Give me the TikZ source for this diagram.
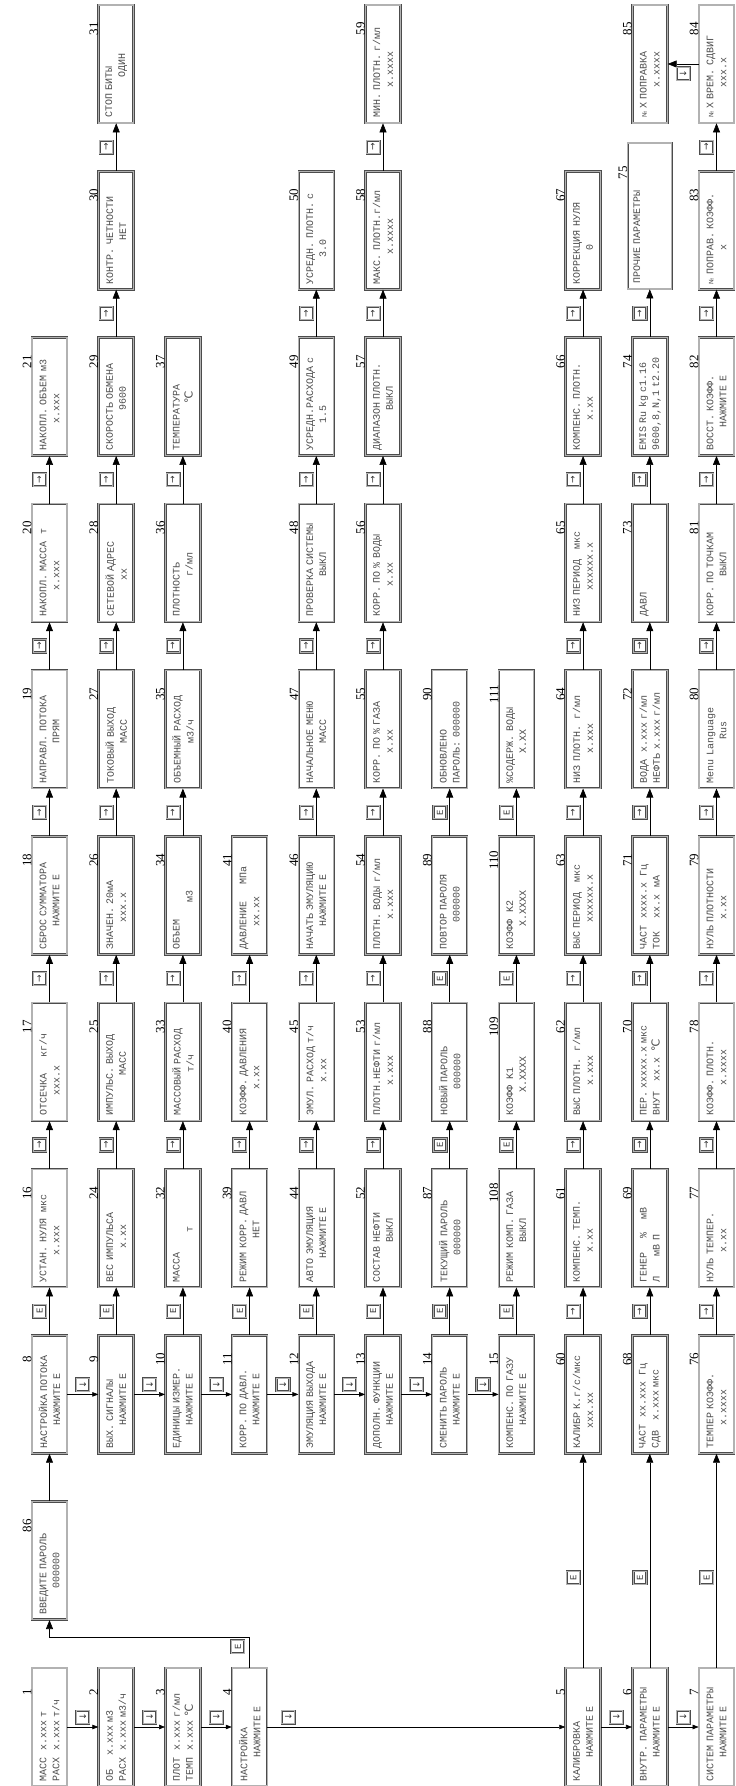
\documentclass[tikz,border=0pt]{standalone}
\usepackage{fontspec}
\setmainfont{Liberation Serif}
\newfontfamily\lcdfont{Liberation Mono}
\newfontfamily\symfont{DejaVu Sans}
\usetikzlibrary{arrows.meta}

\newcommand{\lcd}[2]{\mbox{#1}\\\mbox{#2}}
\newcommand{\dgc}{{\symfont\fontsize{11}{11}\selectfont ℃}}
\newcommand{\nr}{{\symfont\fontsize{6}{6}\selectfont №}}
\newcommand{\kr}{{\symfont →}}
\newcommand{\kd}{{\symfont ↓}}
\newcommand{\ke}{{\lcdfont E}}

\begin{document}
\begin{tikzpicture}[rotate=90, transform shape, x=166.3pt, y=-66.7pt,
lcdbox/.style={draw=black!70, double=black!30, double distance=1.1pt, line width=.7pt,
  text width=108pt, align=left, inner xsep=5pt, inner ysep=0pt, minimum height=35pt,
  font=\lcdfont\fontsize{10}{13}\selectfont, text=black!70},
lcd/.style={lcdbox, label={[num, anchor=south, label distance=3pt, xshift=38pt]above:#1}},
num/.style={inner sep=0pt, text=black, font=\rmfamily\fontsize{13}{13}\selectfont},
key/.style={draw=black!70, double=black!30, double distance=1pt, line width=.6pt,
  minimum size=13pt, inner sep=0pt, text=black!80, font=\fontsize{9}{9}\selectfont},
link/.style={-{Triangle[length=9pt,width=7pt]}, line width=.6pt},
linksm/.style={-{Triangle[length=6pt,width=4.5pt]}, line width=.6pt}]
\useasboundingbox (-59pt,49.5pt) rectangle (1727pt,-686.5pt);

% main screens
\node[lcd=1] (n1) at (0,0) {\lcd{МАСС~~x.xxx~т}{РАСХ~~x.xxx~т/ч}};
\node[lcd=2] (n2) at (0,1) {\lcd{ОБ~~~~x.xxx~м3}{РАСХ~~x.xxx~м3/ч}};
\node[lcd=3] (n3) at (0,2) {\lcd{ПЛОТ~~x.xxx~г/мл}{ТЕМП~~x.xxx~\dgc}};
\node[lcd=4] (n4) at (0,3) {\lcd{НАСТРОЙКА}{~~~~~~~НАЖМИТЕ~Е}};
\node[lcd=5] (n5) at (0,8) {\lcd{КАЛИБРОВКА}{~~~~~~~НАЖМИТЕ~Е}};
\node[lcd=6] (n6) at (0,9) {\lcd{ВНУТР.~ПАРАМЕТРЫ}{~~~~~~~НАЖМИТЕ~Е}};
\node[lcd=7] (n7) at (0,10) {\lcd{СИСТЕМ~ПАРАМЕТРЫ}{~~~~~~~НАЖМИТЕ~Е}};
\node[lcd=86] (n86) at (1,0) {\lcd{ВВЕДИТЕ~ПАРОЛЬ}{~~~~~~~~000000}};

% setup menus
\node[lcd=8] (n8) at (2,0) {\lcd{НАСТРОЙКА~ПОТОКА}{~~~~~~~НАЖМИТЕ~Е}};
\node[lcd=9] (n9) at (2,1) {\lcd{ВЫХ.~СИГНАЛЫ}{~~~~~~~НАЖМИТЕ~Е}};
\node[lcd=10] (n10) at (2,2) {\lcd{ЕДИНИЦЫ~ИЗМЕР.}{~~~~~~~НАЖМИТЕ~Е}};
\node[lcd=11] (n11) at (2,3) {\lcd{КОРР.~ПО~ДАВЛ.}{~~~~~~~НАЖМИТЕ~Е}};
\node[lcd=12] (n12) at (2,4) {\lcd{ЭМУЛЯЦИЯ~ВЫХОДА}{~~~~~~~НАЖМИТЕ~Е}};
\node[lcd=13] (n13) at (2,5) {\lcd{ДОПОЛН.~ФУНКЦИИ}{~~~~~~~НАЖМИТЕ~Е}};
\node[lcd=14] (n14) at (2,6) {\lcd{СМЕНИТЬ~ПАРОЛЬ}{~~~~~~~НАЖМИТЕ~Е}};
\node[lcd=15] (n15) at (2,7) {\lcd{КОМПЕНС.~ПО~ГАЗУ}{~~~~~~~НАЖМИТЕ~Е}};

% flow
\node[lcd=16] (n16) at (3,0) {\lcd{УСТАН.~НУЛЯ~~мкс}{~~~~~~~~x.xxx}};
\node[lcd=17] (n17) at (4,0) {\lcd{ОТСЕЧКА~~~~~кг/ч}{~~~~~~xxx.x}};
\node[lcd=18] (n18) at (5,0) {\lcd{СБРОС~СУММАТОРА}{~~~~~~~НАЖМИТЕ~Е}};
\node[lcd=19] (n19) at (6,0) {\lcd{НАПРАВЛ.~ПОТОКА}{~~~~~~~~~~~~ПРЯМ}};
\node[lcd=20] (n20) at (7,0) {\lcd{НАКОПЛ.~МАССА~~т}{~~~~~~~~x.xxx}};
\node[lcd=21] (n21) at (8,0) {\lcd{НАКОПЛ.~ОБЪЕМ~м3}{~~~~~~~~x.xxx}};

% outputs
\node[lcd=24] (n24) at (3,1) {\lcd{ВЕС~ИМПУЛЬСА}{~~~~~~~~~~x.xx}};
\node[lcd=25] (n25) at (4,1) {\lcd{ИМПУЛЬС.~ВЫХОД}{~~~~~~~~~~~~МАСС}};
\node[lcd=26] (n26) at (5,1) {\lcd{ЗНАЧЕН.~20мА}{~~~~~~~~xxx.x}};
\node[lcd=27] (n27) at (6,1) {\lcd{ТОКОВЫЙ~ВЫХОД}{~~~~~~~~~~~~МАСС}};
\node[lcd=28] (n28) at (7,1) {\lcd{СЕТЕВОЙ~АДРЕС}{~~~~~~~~~~~xx}};
\node[lcd=29] (n29) at (8,1) {\lcd{СКОРОСТЬ~ОБМЕНА}{~~~~~~~~~~~~9600}};
\node[lcd=30] (n30) at (9,1) {\lcd{КОНТР.~ЧЕТНОСТИ}{~~~~~~~~~~~~~НЕТ}};
\node[lcd=31] (n31) at (10,1) {\lcd{СТОП~БИТЫ}{~~~~~~~~~~~~ОДИН}};

% units
\node[lcd=32] (n32) at (3,2) {\lcd{МАССА}{~~~~~~~~~~~~~~~т}};
\node[lcd=33] (n33) at (4,2) {\lcd{МАССОВЫЙ~РАСХОД}{~~~~~~~~~~~~~т/ч}};
\node[lcd=34] (n34) at (5,2) {\lcd{ОБЪЕМ}{~~~~~~~~~~~~~~м3}};
\node[lcd=35] (n35) at (6,2) {\lcd{ОБЪЕМНЫЙ~РАСХОД}{~~~~~~~~~~~~м3/ч}};
\node[lcd=36] (n36) at (7,2) {\lcd{ПЛОТНОСТЬ}{~~~~~~~~~~~~г/мл}};
\node[lcd=37] (n37) at (8,2) {\lcd{ТЕМПЕРАТУРА}{~~~~~~~~~~~~~~\dgc}};

% pressure
\node[lcd=39] (n39) at (3,3) {\lcd{РЕЖИМ~КОРР.~ДАВЛ}{~~~~~~~~~~~~~НЕТ}};
\node[lcd=40] (n40) at (4,3) {\lcd{КОЭФФ.~ДАВЛЕНИЯ}{~~~~~~~~x.xx}};
\node[lcd=41] (n41) at (5,3) {\lcd{ДАВЛЕНИЕ~~~~~МПа}{~~~~~~~xx.xx}};

% emulation
\node[lcd=44] (n44) at (3,4) {\lcd{АВТО~ЭМУЛЯЦИЯ}{~~~~~~~НАЖМИТЕ~Е}};
\node[lcd=45] (n45) at (4,4) {\lcd{ЭМУЛ.~РАСХОД~т/ч}{~~~~~~~~~~x.xx}};
\node[lcd=46] (n46) at (5,4) {\lcd{НАЧАТЬ~ЭМУЛЯЦИЮ}{~~~~~~~НАЖМИТЕ~Е}};
\node[lcd=47] (n47) at (6,4) {\lcd{НАЧАЛЬНОЕ~МЕНЮ}{~~~~~~~~~~~~МАСС}};
\node[lcd=48] (n48) at (7,4) {\lcd{ПРОВЕРКА~СИСТЕМЫ}{~~~~~~~~~~~~ВЫКЛ}};
\node[lcd=49] (n49) at (8,4) {\lcd{УСРЕДН.РАСХОДА~с}{~~~~~~~~1.5}};
\node[lcd=50] (n50) at (9,4) {\lcd{УСРЕДН.~ПЛОТН.~с}{~~~~~~~~3.0}};

% extra functions
\node[lcd=52] (n52) at (3,5) {\lcd{СОСТАВ~НЕФТИ}{~~~~~~~~~~~~ВЫКЛ}};
\node[lcd=53] (n53) at (4,5) {\lcd{ПЛОТН.НЕФТИ~г/мл}{~~~~~~~~~x.xxx}};
\node[lcd=54] (n54) at (5,5) {\lcd{ПЛОТН.~ВОДЫ~г/мл}{~~~~~~~~~x.xxx}};
\node[lcd=55] (n55) at (6,5) {\lcd{КОРР.~ПО~\%~ГАЗА}{~~~~~~~~~x.xx}};
\node[lcd=56] (n56) at (7,5) {\lcd{КОРР.~ПО~\%~ВОДЫ}{~~~~~~~~~x.xx}};
\node[lcd=57] (n57) at (8,5) {\lcd{ДИАПАЗОН~ПЛОТН.}{~~~~~~~~~~~~ВЫКЛ}};
\node[lcd=58] (n58) at (9,5) {\lcd{МАКС.~ПЛОТН.г/мл}{~~~~~~~~~x.xxxx}};
\node[lcd=59] (n59) at (10,5) {\lcd{МИН.~ПЛОТН.~г/мл}{~~~~~~~~~x.xxxx}};

% password
\node[lcd=87] (n87) at (3,6) {\lcd{ТЕКУЩИЙ~ПАРОЛЬ}{~~~~~~~~000000}};
\node[lcd=88] (n88) at (4,6) {\lcd{НОВЫЙ~ПАРОЛЬ}{~~~~~~~~000000}};
\node[lcd=89] (n89) at (5,6) {\lcd{ПОВТОР~ПАРОЛЯ}{~~~~~~~~000000}};
\node[lcd=90] (n90) at (6,6) {\lcd{ОБНОВЛЕНО}{ПАРОЛЬ:~000000}};

% gas compensation
\node[lcd=108] (n108) at (3,7) {\lcd{РЕЖИМ~КОМП.~ГАЗА}{~~~~~~~~~~~~ВЫКЛ}};
\node[lcd=109] (n109) at (4,7) {\lcd{КОЭФФ~~K1}{~~~~~~~X.XXXX}};
\node[lcd=110] (n110) at (5,7) {\lcd{КОЭФФ~~K2}{~~~~~~~X.XXXX}};
\node[lcd=111] (n111) at (6,7) {\lcd{\%СОДЕРЖ.~ВОДЫ}{~~~~~~~~~X.XX}};

% calibration
\node[lcd=60] (n60) at (2,8) {\lcd{КАЛИБР~К.г/с/мкс}{~~~~~~xxx.xx}};
\node[lcd=61] (n61) at (3,8) {\lcd{КОМПЕНС.~ТЕМП.}{~~~~~~~~~x.xx}};
\node[lcd=62] (n62) at (4,8) {\lcd{ВЫС~ПЛОТН.~~г/мл}{~~~~~~~~~x.xxx}};
\node[lcd=63] (n63) at (5,8) {\lcd{ВЫС~ПЕРИОД~~~мкс}{~~~~~~~~xxxxxx.x}};
\node[lcd=64] (n64) at (6,8) {\lcd{НИЗ~ПЛОТН.~~г/мл}{~~~~~~~~~x.xxx}};
\node[lcd=65] (n65) at (7,8) {\lcd{НИЗ~ПЕРИОД~~~мкс}{~~~~~~~~xxxxxx.x}};
\node[lcd=66] (n66) at (8,8) {\lcd{КОМПЕНС.~ПЛОТН.}{~~~~~~~~~x.xx}};
\node[lcd=67] (n67) at (9,8) {\lcd{КОРРЕКЦИЯ~НУЛЯ}{~~~~~~~~~~0}};

% internal parameters
\node[lcd=68] (n68) at (2,9) {\lcd{ЧАСТ~~xx.xxx~~Гц}{СДВ~~~x.xxx~мкс}};
\node[lcd=69] (n69) at (3,9) {\lcd{ГЕНЕР~~~~\%~~~~мВ}{Л~~~~~~мВ~П}};
\node[lcd=70] (n70) at (4,9) {\lcd{ПЕР.~xxxxx.x~мкс}{ВНУТ~~~xx.x~~\dgc}};
\node[lcd=71] (n71) at (5,9) {\lcd{ЧАСТ~~xxxx.x~~Гц}{ТОК~~~~xx.x~~мА}};
\node[lcd=72] (n72) at (6,9) {\lcd{ВОДА~~x.xxx~г/мл}{НЕФТЬ~x.xxx~г/мл}};
\node[lcd=73] (n73) at (7,9) {\lcd{ДАВЛ}{}};
\node[lcd=74] (n74) at (8,9) {\lcd{EMIS~Ru~kg~c1.16}{9600,8,N,1~t2.20}};
\node[lcdbox, minimum height=44pt, text width=136pt,
  label={[num, anchor=south, label distance=-3pt, xshift=40pt]above:75}] (n75) at (9.086,9) {\lcd{ПРОЧИЕ~ПАРАМЕТРЫ}{}\\\mbox{}};
\node[lcd=85] (n85) at (10,9) {\lcd{\nr~X~ПОПРАВКА}{~~~~~~~~~x.xxxx}};

% system parameters
\node[lcd=76] (n76) at (2,10) {\lcd{ТЕМПЕР~КОЭФФ.}{~~~~~~~x.xxxx}};
\node[lcd=77] (n77) at (3,10) {\lcd{НУЛЬ~ТЕМПЕР.}{~~~~~~~~~x.xx}};
\node[lcd=78] (n78) at (4,10) {\lcd{КОЭФФ.~ПЛОТН.}{~~~~~~~~~x.xxxx}};
\node[lcd=79] (n79) at (5,10) {\lcd{НУЛЬ~ПЛОТНОСТИ}{~~~~~~~~~x.xx}};
\node[lcd=80] (n80) at (6,10) {\lcd{Menu~Language}{~~~~~~~~~~~~~Rus}};
\node[lcd=81] (n81) at (7,10) {\lcd{КОРР.~ПО~ТОЧКАМ}{~~~~~~~~~~~~ВЫКЛ}};
\node[lcd=82] (n82) at (8,10) {\lcd{ВОССТ.~КОЭФФ.}{~~~~~~~НАЖМИТЕ~Е}};
\node[lcd=83] (n83) at (9,10) {\lcd{\nr~ПОПРАВ.~КОЭФФ.}{~~~~~~~~~~x}};
\node[lcd=84] (n84) at (10,10) {\lcd{\nr~X~ВРЕМ.~СДВИГ}{~~~~~~~~~xxx.x}};

% down key
\draw[linksm] (n1) -- node[key, right=3pt]{\kd} (n2);
\draw[linksm] (n2) -- node[key, right=3pt]{\kd} (n3);
\draw[linksm] (n3) -- node[key, right=3pt]{\kd} (n4);
\draw[linksm] (n4) -- node[key, pos=.07, right=3pt]{\kd} (n5);
\draw[linksm] (n5) -- node[key, right=3pt]{\kd} (n6);
\draw[linksm] (n6) -- node[key, right=3pt]{\kd} (n7);
\draw[linksm] (n8) -- node[key, right=3pt]{\kd} (n9);
\draw[linksm] (n9) -- node[key, right=3pt]{\kd} (n10);
\draw[linksm] (n10) -- node[key, right=3pt]{\kd} (n11);
\draw[linksm] (n11) -- node[key, right=3pt]{\kd} (n12);
\draw[linksm] (n12) -- node[key, right=3pt]{\kd} (n13);
\draw[linksm] (n13) -- node[key, right=3pt]{\kd} (n14);
\draw[linksm] (n14) -- node[key, right=3pt]{\kd} (n15);
\draw[link] (n84) -- node[key, left=3pt]{\kd} (n85);

% enter key
\draw[link] (n4.east) -- node[key, pos=.7, above=5pt]{\ke} ++(30pt,0) |- (n86);
\draw[link] (n86) -- (n8);
\draw[link] (n8) -- node[key, above=3pt]{\ke} (n16);
\draw[link] (n9) -- node[key, above=3pt]{\ke} (n24);
\draw[link] (n10) -- node[key, above=3pt]{\ke} (n32);
\draw[link] (n11) -- node[key, above=3pt]{\ke} (n39);
\draw[link] (n12) -- node[key, above=3pt]{\ke} (n44);
\draw[link] (n13) -- node[key, above=3pt]{\ke} (n52);
\draw[link] (n14) -- node[key, above=3pt]{\ke} (n87);
\draw[link] (n87) -- node[key, above=3pt]{\ke} (n88);
\draw[link] (n88) -- node[key, above=3pt]{\ke} (n89);
\draw[link] (n89) -- node[key, above=3pt]{\ke} (n90);
\draw[link] (n15) -- node[key, above=3pt]{\ke} (n108);
\draw[link] (n108) -- node[key, above=3pt]{\ke} (n109);
\draw[link] (n109) -- node[key, above=3pt]{\ke} (n110);
\draw[link] (n110) -- node[key, above=3pt]{\ke} (n111);
\draw[link] (n5) -- node[key, pos=.42, above=3pt]{\ke} (n60);
\draw[link] (n6) -- node[key, pos=.42, above=3pt]{\ke} (n68);
\draw[link] (n7) -- node[key, pos=.42, above=3pt]{\ke} (n76);

% right key
\draw[link] (n16) -- node[key, above=3pt]{\kr} (n17);
\draw[link] (n17) -- node[key, above=3pt]{\kr} (n18);
\draw[link] (n18) -- node[key, above=3pt]{\kr} (n19);
\draw[link] (n19) -- node[key, above=3pt]{\kr} (n20);
\draw[link] (n20) -- node[key, above=3pt]{\kr} (n21);
\draw[link] (n24) -- node[key, above=3pt]{\kr} (n25);
\draw[link] (n25) -- node[key, above=3pt]{\kr} (n26);
\draw[link] (n26) -- node[key, above=3pt]{\kr} (n27);
\draw[link] (n27) -- node[key, above=3pt]{\kr} (n28);
\draw[link] (n28) -- node[key, above=3pt]{\kr} (n29);
\draw[link] (n29) -- node[key, above=3pt]{\kr} (n30);
\draw[link] (n30) -- node[key, above=3pt]{\kr} (n31);
\draw[link] (n32) -- node[key, above=3pt]{\kr} (n33);
\draw[link] (n33) -- node[key, above=3pt]{\kr} (n34);
\draw[link] (n34) -- node[key, above=3pt]{\kr} (n35);
\draw[link] (n35) -- node[key, above=3pt]{\kr} (n36);
\draw[link] (n36) -- node[key, above=3pt]{\kr} (n37);
\draw[link] (n39) -- node[key, above=3pt]{\kr} (n40);
\draw[link] (n40) -- node[key, above=3pt]{\kr} (n41);
\draw[link] (n44) -- node[key, above=3pt]{\kr} (n45);
\draw[link] (n45) -- node[key, above=3pt]{\kr} (n46);
\draw[link] (n46) -- node[key, above=3pt]{\kr} (n47);
\draw[link] (n47) -- node[key, above=3pt]{\kr} (n48);
\draw[link] (n48) -- node[key, above=3pt]{\kr} (n49);
\draw[link] (n49) -- node[key, above=3pt]{\kr} (n50);
\draw[link] (n52) -- node[key, above=3pt]{\kr} (n53);
\draw[link] (n53) -- node[key, above=3pt]{\kr} (n54);
\draw[link] (n54) -- node[key, above=3pt]{\kr} (n55);
\draw[link] (n55) -- node[key, above=3pt]{\kr} (n56);
\draw[link] (n56) -- node[key, above=3pt]{\kr} (n57);
\draw[link] (n57) -- node[key, above=3pt]{\kr} (n58);
\draw[link] (n58) -- node[key, above=3pt]{\kr} (n59);
\draw[link] (n60) -- node[key, above=3pt]{\kr} (n61);
\draw[link] (n61) -- node[key, above=3pt]{\kr} (n62);
\draw[link] (n62) -- node[key, above=3pt]{\kr} (n63);
\draw[link] (n63) -- node[key, above=3pt]{\kr} (n64);
\draw[link] (n64) -- node[key, above=3pt]{\kr} (n65);
\draw[link] (n65) -- node[key, above=3pt]{\kr} (n66);
\draw[link] (n66) -- node[key, above=3pt]{\kr} (n67);
\draw[link] (n68) -- node[key, above=3pt]{\kr} (n69);
\draw[link] (n69) -- node[key, above=3pt]{\kr} (n70);
\draw[link] (n70) -- node[key, above=3pt]{\kr} (n71);
\draw[link] (n71) -- node[key, above=3pt]{\kr} (n72);
\draw[link] (n72) -- node[key, above=3pt]{\kr} (n73);
\draw[link] (n73) -- node[key, above=3pt]{\kr} (n74);
\draw[link] (n74) -- node[key, above=3pt]{\kr} (n75);
\draw[link] (n76) -- node[key, above=3pt]{\kr} (n77);
\draw[link] (n77) -- node[key, above=3pt]{\kr} (n78);
\draw[link] (n78) -- node[key, above=3pt]{\kr} (n79);
\draw[link] (n79) -- node[key, above=3pt]{\kr} (n80);
\draw[link] (n80) -- node[key, above=3pt]{\kr} (n81);
\draw[link] (n81) -- node[key, above=3pt]{\kr} (n82);
\draw[link] (n82) -- node[key, above=3pt]{\kr} (n83);
\draw[link] (n83) -- node[key, above=3pt]{\kr} (n84);
\end{tikzpicture}
\end{document}
